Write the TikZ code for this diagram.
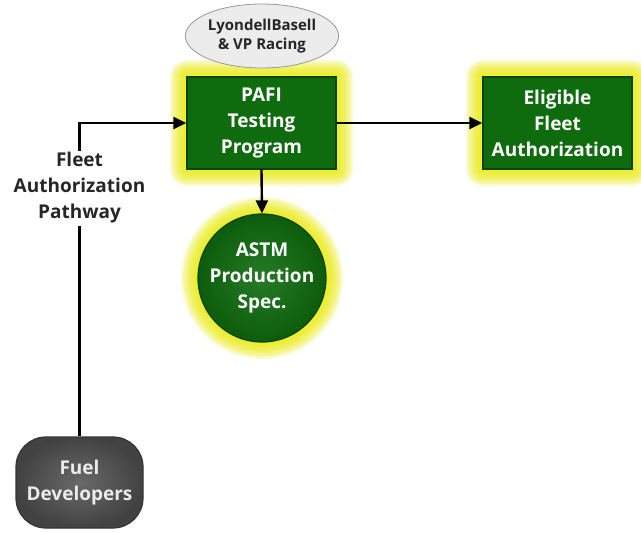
\documentclass[tikz,border=0pt]{standalone}
\usepackage{fontspec}
\setmainfont{Open Sans}
\usetikzlibrary{arrows.meta,shapes.geometric}
\definecolor{boxgreen}{RGB}{14,108,14}
\definecolor{boxgreenedge}{RGB}{8,70,8}
\definecolor{glowyellow}{RGB}{232,232,0}
\definecolor{devgray}{RGB}{88,88,88}
\definecolor{ovalfill}{RGB}{236,236,236}
\tikzset{
  stagebox/.style={rectangle, minimum width=149pt, minimum height=92pt,
    fill=boxgreen, draw=boxgreenedge, line width=1.2pt, text=white,
    align=center, font=\bfseries\fontsize{19}{26}\selectfont, inner sep=0pt},
  specdisc/.style={circle, minimum size=128pt, inner sep=0pt,
    inner color=boxgreen!90!white, outer color=boxgreen!85!black,
    draw=boxgreenedge, line width=1.2pt, text=white, align=center,
    font=\bfseries\fontsize{19}{26}\selectfont},
  devbox/.style={rectangle, rounded corners=30pt, minimum width=127pt,
    minimum height=91pt, inner color=devgray!90!white, outer color=devgray!75!black,
    draw=devgray!60!black, line width=1.2pt, text=white!92!black, align=center,
    font=\bfseries\fontsize{19}{26}\selectfont, inner sep=0pt},
  partneroval/.style={ellipse, minimum width=150pt, minimum height=64pt,
    fill=ovalfill, draw=gray!80, line width=0.8pt, align=center, inner sep=0pt,
    font=\bfseries\fontsize{15}{19}\selectfont, text=black!85},
  pathlabel/.style={fill=white, align=center, inner sep=2pt,
    font=\bfseries\fontsize{19}{26}\selectfont, text=black!85},
  flow/.style={line width=2.4pt, draw=black, -{Triangle[length=13pt,width=12pt]}},
}
\begin{document}
\begin{tikzpicture}[x=1pt,y=-1pt]
\useasboundingbox (0,0) rectangle (641,533);

% yellow halos behind the green stages
\foreach \w in {34,30,...,2} {
  \draw[glowyellow, opacity=0.18, line width=\w pt, line join=round]
    (187,77) rectangle (336,169);
  \draw[glowyellow, opacity=0.18, line width=\w pt, line join=round]
    (483,77) rectangle (632,169);
  \draw[glowyellow, opacity=0.18, line width=\w pt]
    (262,278) circle (64);
}

\node[stagebox] (pafi) at (261.5,123) {PAFI\\Testing\\Program};
\node[stagebox] (elig) at (557.5,123) {Eligible\\Fleet\\Authorization};
\node[specdisc] (astm) at (262,278) {ASTM\\Production\\Spec.};
\node[devbox] (fuel) at (79.5,482.5) {Fuel\\Developers};
\node[partneroval] (partner) at (262,36) {LyondellBasell\\\& VP Racing};

% connectors
\draw[flow] (fuel.north) |- (pafi.west);
\draw[flow] (pafi.east) -- (elig.west);
\draw[flow] (pafi.south) -- (astm.north);

\node[pathlabel] (pathway) at (fuel.north |- 0,188) {Fleet\\Authorization\\Pathway};
\end{tikzpicture}
\end{document}
